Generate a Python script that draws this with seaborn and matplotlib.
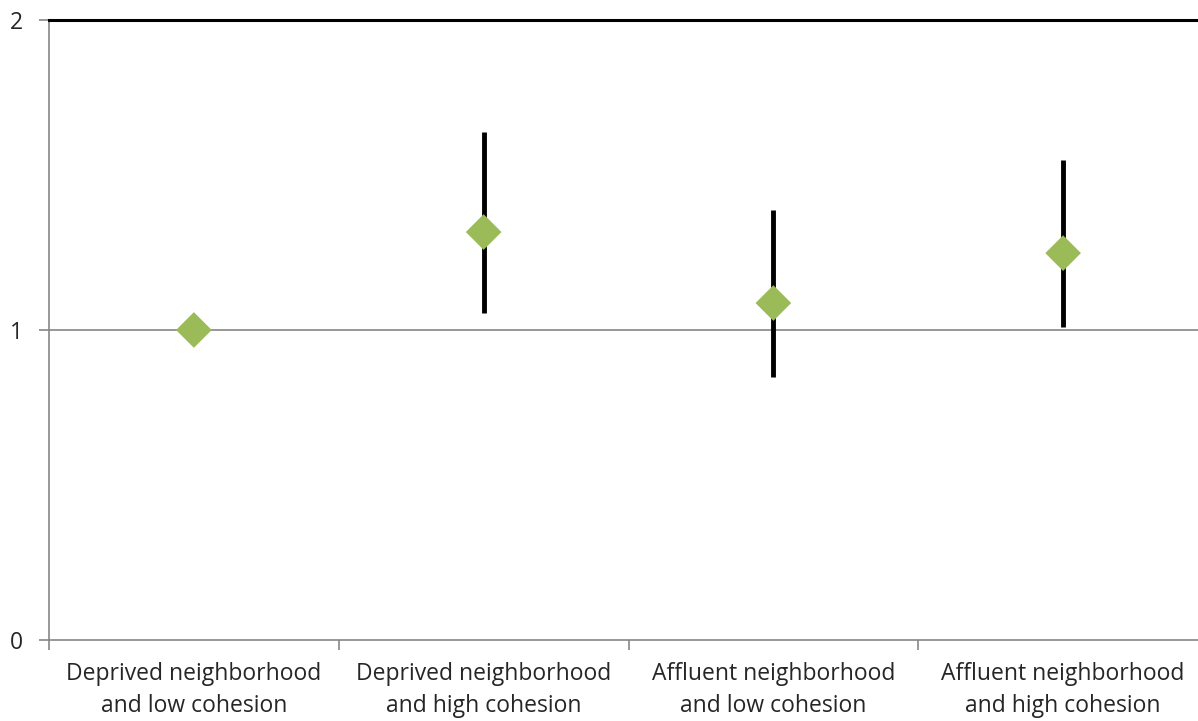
import numpy as np
import pandas as pd
import matplotlib
matplotlib.use("Agg")
import matplotlib.pyplot as plt
import seaborn as sns

categories = ["Deprived neighborhood\nand low cohesion",
              "Deprived neighborhood\nand high cohesion",
              "Affluent neighborhood\nand low cohesion",
              "Affluent neighborhood\nand high cohesion"]
estimate = [1.00, 1.316, 1.087, 1.248]
ci_low = [np.nan, 1.055, 0.848, 1.010]
ci_high = [np.nan, 1.639, 1.387, 1.548]
y_ticks = [0, 1, 2]

df = pd.DataFrame({"cat": categories, "est": estimate, "lo": ci_low, "hi": ci_high})
df["pos"] = np.arange(len(df))

sns.set_style("white")
plt.rcParams["font.family"] = ["Open Sans", "DejaVu Sans"]

fig = plt.figure(figsize=(11.98, 7.21), dpi=100)
ax = fig.add_axes([49 / 1198, 81 / 721, 1159 / 1198, 620 / 721])

# gridline at 1
ax.axhline(1, color="#868686", lw=1.2, zorder=0)

# error bars
ok = df.dropna()
ax.vlines(ok["pos"], ok["lo"], ok["hi"], color="black", lw=3.5, zorder=2)

sns.scatterplot(data=df, x="pos", y="est", marker="D", s=330, color="#9BBB59",
                edgecolor="none", ax=ax, zorder=3, legend=False)

ax.set_xlim(-0.5, len(df) - 0.5)
ax.set_ylim(0, 2)
ax.set_yticks(y_ticks)
ax.set_yticklabels([str(t) for t in y_ticks], fontsize=16.5)
ax.set_xticks(np.arange(-0.5, len(df), 1.0))
ax.set_xticklabels([])
ax.set_xticks(df["pos"], minor=True)
ax.set_xticklabels(df["cat"], minor=True, fontsize=16.5, linespacing=1.45)
ax.tick_params(axis="x", which="major", bottom=True, direction="out", length=7, width=1.2, color="#868686")
ax.tick_params(axis="x", which="minor", bottom=True, length=0, pad=16)
ax.tick_params(axis="y", left=True, direction="out", length=7, width=1.2, color="#868686", pad=12)
ax.set_xlabel("")
ax.set_ylabel("")

for s in ["left", "bottom"]:
    ax.spines[s].set_color("#868686")
    ax.spines[s].set_linewidth(1.2)
ax.spines["right"].set_visible(False)
ax.spines["top"].set_color("black")
ax.spines["top"].set_linewidth(2.2)

fig.savefig("out.png", dpi=100)
